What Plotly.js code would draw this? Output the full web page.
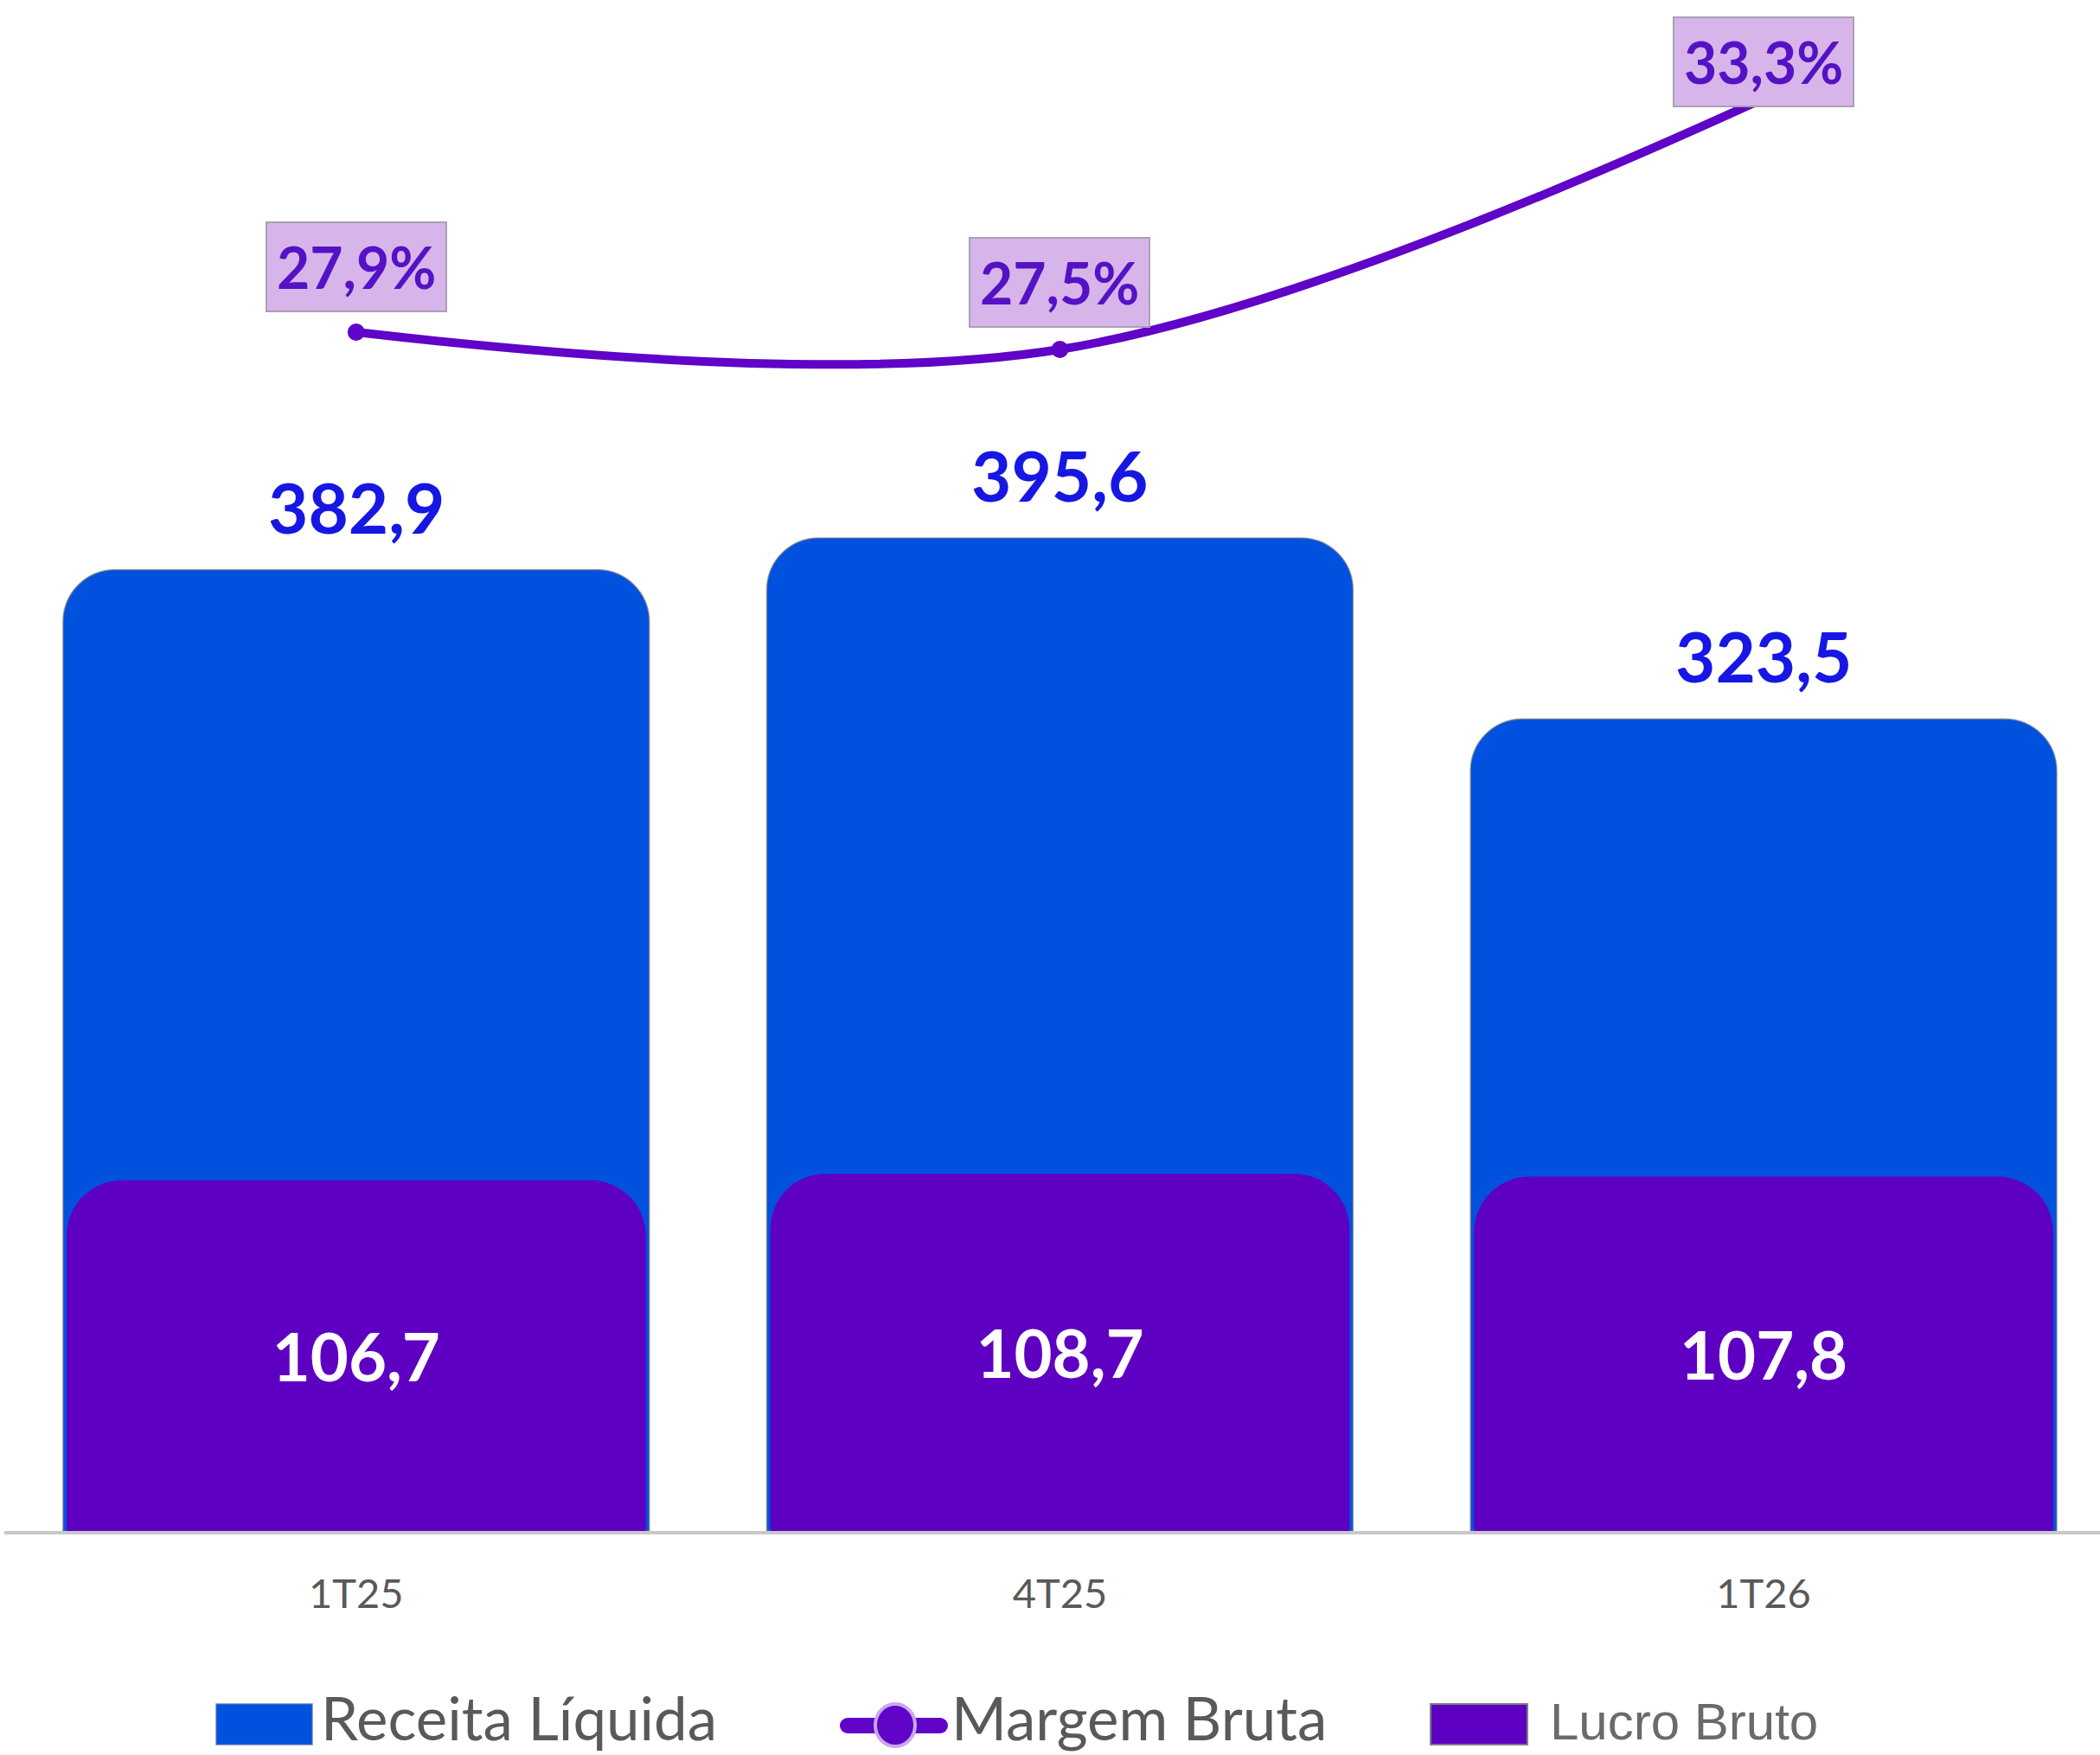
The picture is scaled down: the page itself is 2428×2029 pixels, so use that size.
<!DOCTYPE html>
<html>
<head>
<meta charset="utf-8">
<script src="https://cdn.plot.ly/plotly-3.0.1.min.js"></script>
<style>
  html, body { margin: 0; padding: 0; background: #ffffff; }
  #chart { width: 2428px; height: 2029px; }
</style>
</head>
<body>
<div id="chart"></div>
<script>
// ---- data ----
const categories = ['1T25', '4T25', '1T26'];
const receitaLiquida = [382.9, 395.6, 323.5];
const lucroBruto = [106.7, 108.7, 107.8];
const margemBruta = [27.9, 27.5, 33.3];
const legendLabels = ['Receita Líquida', 'Margem Bruta', 'Lucro Bruto'];

// ---- helpers ----
const W = 2428, H = 2029;
const ML = 5, MR = 0, MT = 0, MB = 259;
const PW = W - ML - MR, PH = H - MT - MB;
const fmt = v => v.toFixed(1).replace('.', ',');
const px = x => (x - ML) / PW;           // pixel x -> paper x
const py = y => (MT + PH - y) / PH;      // pixel y -> paper y

const blue = '#0052DE';
const purple = '#5E00C2';
const lineColor = '#6004C8';

const traces = [
  {
    type: 'bar', name: legendLabels[0],
    x: categories, y: receitaLiquida,
    xaxis: 'x', yaxis: 'y',
    width: 0.833,
    marker: { color: blue, cornerradius: 60, line: { color: 'rgba(120,120,130,0.7)', width: 1.5 } },
    hoverinfo: 'skip', showlegend: false
  },
  {
    type: 'bar', name: legendLabels[2],
    x: categories, y: lucroBruto,
    xaxis: 'x', yaxis: 'y3',
    width: 0.823,
    marker: { color: purple, cornerradius: 64 },
    text: lucroBruto.map(fmt),
    textposition: 'inside', insidetextanchor: 'middle',
    textangle: 0,
    textfont: { family: 'Lato', size: 76, color: '#ffffff', weight: 'bold' },
    hoverinfo: 'skip', showlegend: false
  },
  {
    type: 'scatter', mode: 'lines+markers', name: legendLabels[1],
    x: categories, y: margemBruta,
    xaxis: 'x', yaxis: 'y2',
    line: { color: lineColor, width: 10, shape: 'spline', smoothing: 1 },
    marker: { color: lineColor, size: 20 },
    hoverinfo: 'skip', showlegend: false
  }
];

const annotations = [];
// Receita labels above bars
categories.forEach((c, i) => {
  annotations.push({
    xref: 'x', yref: 'y', x: c, y: receitaLiquida[i], yshift: 73,
    text: '<b>' + fmt(receitaLiquida[i]) + '</b>', showarrow: false,
    font: { family: 'Lato', size: 80, color: '#1717E3' }
  });
});
// Margem labels in boxes
const margemShift = [76, 78, 43];
categories.forEach((c, i) => {
  annotations.push({
    xref: 'x', yref: 'y2', x: c, y: margemBruta[i], yshift: margemShift[i],
    text: '<b>' + fmt(margemBruta[i]) + '%</b>', showarrow: false,
    font: { family: 'Lato', size: 66, color: '#5512C4' },
    bgcolor: '#D7B5EA', bordercolor: '#A9A0B5', borderwidth: 2, borderpad: 11
  });
});
// Custom legend text
annotations.push(
  { xref: 'paper', yref: 'paper', x: px(369), y: py(1985), xanchor: 'left', yanchor: 'middle',
    text: legendLabels[0], showarrow: false, font: { family: 'Lato', size: 69, color: '#595959' } },
  { xref: 'paper', yref: 'paper', x: px(1098), y: py(1985), xanchor: 'left', yanchor: 'middle',
    text: legendLabels[1], showarrow: false, font: { family: 'Lato', size: 69, color: '#595959' } },
  { xref: 'paper', yref: 'paper', x: px(1790), y: py(1990), xanchor: 'left', yanchor: 'middle',
    text: legendLabels[2], showarrow: false, font: { family: 'Liberation Sans', size: 60, color: '#6A6A6A' } }
);

const shapes = [
  // Receita swatch
  { type: 'rect', xref: 'paper', yref: 'paper', x0: px(250), x1: px(361), y0: py(2017), y1: py(1970),
    fillcolor: blue, line: { color: 'rgba(90,110,170,0.8)', width: 1.5 } },
  // Margem line + marker
  { type: 'line', xref: 'paper', yref: 'paper', x0: px(980), x1: px(1087), y0: py(1995), y1: py(1995),
    line: { color: lineColor, width: 18 } },
  { type: 'circle', xref: 'paper', yref: 'paper', x0: px(971), x1: px(989), y0: py(2004), y1: py(1986),
    fillcolor: lineColor, line: { width: 0 } },
  { type: 'circle', xref: 'paper', yref: 'paper', x0: px(1078), x1: px(1096), y0: py(2004), y1: py(1986),
    fillcolor: lineColor, line: { width: 0 } },
  { type: 'circle', xref: 'paper', yref: 'paper', x0: px(1012), x1: px(1058), y0: py(2019), y1: py(1970),
    fillcolor: lineColor, line: { color: '#C9A8EE', width: 4 } },
  // Lucro swatch
  { type: 'rect', xref: 'paper', yref: 'paper', x0: px(1654), x1: px(1766), y0: py(2017), y1: py(1970),
    fillcolor: purple, line: { color: '#808080', width: 2 } }
];

const layout = {
  width: W, height: H,
  margin: { l: ML, r: MR, t: MT, b: MB, pad: 0 },
  paper_bgcolor: '#ffffff', plot_bgcolor: '#ffffff',
  barmode: 'overlay',
  showlegend: false,
  xaxis: {
    type: 'category', range: [-0.5, 2.478], fixedrange: true,
    showline: true, linecolor: '#C8C8C8', linewidth: 4,
    showgrid: false, zeroline: false, ticks: '',
    ticklabelstandoff: 29,
    tickfont: { family: 'Lato', size: 47, color: '#595959' }
  },
  yaxis: { range: [0, 609.9], visible: false, fixedrange: true },
  yaxis2: { range: [0.18, 35.58], overlaying: 'y', visible: false, fixedrange: true },
  yaxis3: { range: [0, 465.8], overlaying: 'y', visible: false, fixedrange: true },
  annotations: annotations,
  shapes: shapes
};

Plotly.newPlot('chart', traces, layout, { staticPlot: true, displayModeBar: false });
</script>
</body>
</html>
